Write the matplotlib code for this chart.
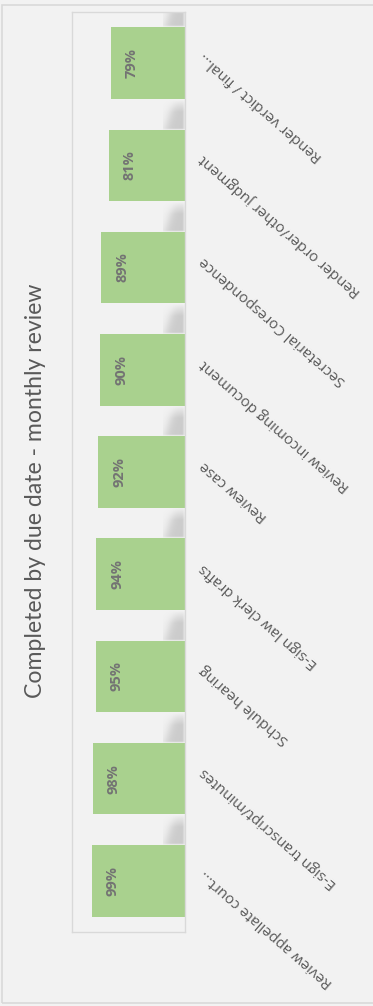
import matplotlib.pyplot as plt
import matplotlib.transforms as mtransforms
from matplotlib.patches import Rectangle
import numpy as np

# Tasks completed by due date, ordered top to bottom
tasks = [
    "Render verdict / final...",
    "Render order/other judgment",
    "Secretarial Corespondence",
    "Review incoming document",
    "Review case",
    "E-sign law clerk drafts",
    "Schdule hearing",
    "E-sign transcript/minutes",
    "Review appellate court...",
]
pct = [0.79, 0.81, 0.89, 0.90, 0.92, 0.94, 0.95, 0.98, 0.99]
pct_labels = ["79%", "81%", "89%", "90%", "92%", "94%", "95%", "98%", "99%"]
title = "Completed by due date - monthly review"

W, H = 373, 1006
bg = "#f2f2f2"
green = "#a9d18e"
grey_txt = "#595959"

fig = plt.figure(figsize=(W / 100, H / 100), dpi=100, facecolor=bg)

# outer chart frame
fig.patches.append(Rectangle((1.5 / W, 1 - 1002.5 / H), 1.2, (1002.5 - 4.5) / H,
                             transform=fig.transFigure, fill=False,
                             edgecolor="#d9d9d9", lw=1.2))

left, right, top, bottom = 72, 185, 12, 932
ax = fig.add_axes([left / W, 1 - bottom / H, (right - left) / W, (bottom - top) / H])
ax.set_facecolor(bg)
for s in ax.spines.values():
    s.set_color("#d9d9d9")
    s.set_linewidth(1.0)

n = len(tasks)
ypos = np.arange(n)
bar_h = 0.70
ax.barh(ypos, pct, height=bar_h, color=green, zorder=2)

# soft grey shading in the gap above each bar, next to the baseline
gw, gh = 22, 30
u = np.arange(gw)[None, :] + 0.5
v = (np.arange(gh)[:, None] + 0.5) / gh
edge = 11 - 9 * v
alpha = 1 / (1 + np.exp(-(u - edge) / 2.6))
alpha *= np.clip(v / 0.4, 0, 1) ** 0.8
alpha *= np.clip((gw - u) / 3.5, 0.35, 1)
alpha *= np.clip((1 - v) / 0.06, 0, 1)
alpha *= 0.38
shade = np.zeros((gh, gw, 4))
shade[..., :3] = 0.55
shade[..., 3] = alpha
px = 0.94  # pixels per percentage point
for i in ypos:
    y1 = i - bar_h / 2
    y0 = y1 - 0.29
    ax.imshow(shade, extent=(gw / px / 100, 0.0, y1, y0), aspect="auto",
              interpolation="bilinear", zorder=1)
ax.set_xlim(1.2, 0)
ax.set_ylim(n - 0.5, -0.5)
ax.set_xticks([])
ax.set_yticks([])

# value labels inside the bar ends
for i, (p, lab) in enumerate(zip(pct, pct_labels)):
    ax.text(p - 0.225, i, lab, rotation=90, ha="center", va="center",
            fontsize=10.5, fontweight="bold", color="#737373",
            family=["Open Sans", "DejaVu Sans"], zorder=3)

# category labels to the right of the baseline
trans = mtransforms.blended_transform_factory(ax.transAxes, ax.transData)
for i, name in enumerate(tasks):
    ax.text(1 + 17 / (right - left), i - 0.08, name, transform=trans,
            rotation=139, rotation_mode="anchor", ha="right", va="center",
            fontsize=10.8, color=grey_txt, family=["Open Sans", "DejaVu Sans"],
            clip_on=False)

fig.text(36 / W, 1 - 491 / H, title, rotation=90, ha="center", va="center",
         fontsize=16.6, color=grey_txt, family=["Lato", "DejaVu Sans"])

fig.savefig("out.png", dpi=100, facecolor=bg)
